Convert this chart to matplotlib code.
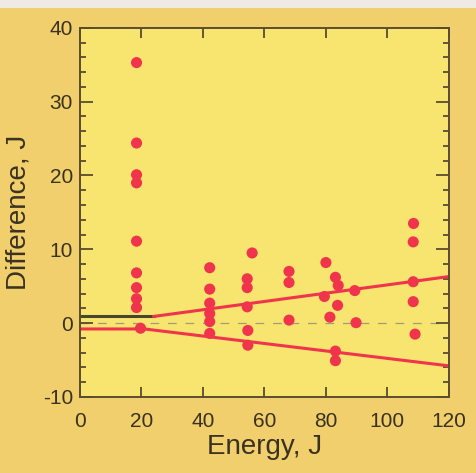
import matplotlib
matplotlib.use("Agg")
import matplotlib.pyplot as plt
from matplotlib.ticker import MultipleLocator
from matplotlib.patches import Rectangle

# measured points (energy J, difference J)
energy = [18.4, 18.4, 18.4, 18.4, 18.4, 18.4, 18.4, 18.4, 18.4, 19.7,
          42.2, 42.2, 42.2, 42.2, 42.2, 42.2,
          54.4, 54.4, 54.4, 54.6, 54.6, 56.0,
          68.0, 68.0, 68.0,
          80.0, 79.5, 81.3, 83.1, 84.0, 83.8, 83.1, 83.1,
          89.4, 89.8,
          108.5, 108.4, 108.4, 108.4, 109.0]
diff = [35.3, 24.4, 20.1, 19.0, 11.1, 6.8, 4.8, 3.3, 2.1, -0.7,
        7.5, 4.6, 2.7, 1.3, 0.2, -1.4,
        6.0, 4.8, 2.2, -1.0, -3.0, 9.5,
        7.0, 5.5, 0.4,
        8.2, 3.6, 0.8, 6.2, 5.1, 2.4, -3.8, -5.1,
        4.4, 0.05,
        13.5, 11.0, 5.6, 2.9, -1.5]

# limit lines
black_x = [0, 24]
black_y = [0.9, 0.9]
upper_x = [24, 120]
upper_y = [0.9, 6.3]
lower_x = [0, 21, 120]
lower_y = [-0.8, -0.8, -5.8]

plt.rcParams["axes.unicode_minus"] = False
plt.rcParams["font.family"] = ["Liberation Sans", "DejaVu Sans"]

fig = plt.figure(figsize=(4.76, 4.73), dpi=100)
fig.patch.set_facecolor("#f1cf6c")
fig.patches.append(Rectangle((0, 0.983), 1, 0.017, transform=fig.transFigure,
                             facecolor="#efebe4", edgecolor="none"))
ax = fig.add_axes([0.168, 0.161, 0.775, 0.780])
ax.set_facecolor("#f8e56f")

dark = "#3a3220"

ax.axhline(0, color="#a39a78", lw=0.9, dashes=(7, 7), zorder=1)
ax.plot(black_x, black_y, color="#4a4530", lw=2.2, zorder=2)
ax.plot(upper_x, upper_y, color="#f0344c", lw=2.2, zorder=2)
ax.plot(lower_x, lower_y, color="#f0344c", lw=2.2, zorder=2)
ax.scatter(energy, diff, s=64, color="#f0344c", edgecolors="none", zorder=3)

ax.set_xlim(0, 120)
ax.set_ylim(-10, 40)
ax.set_xticks([0, 20, 40, 60, 80, 100, 120])
ax.yaxis.set_major_locator(MultipleLocator(10))
ax.yaxis.set_minor_locator(MultipleLocator(2))
ax.tick_params(axis="both", which="both", direction="in", colors="#5a4c30",
               labelcolor=dark, labelsize=15, width=1.3)
ax.tick_params(axis="x", which="major", length=7, top=True, pad=11)
ax.tick_params(axis="y", which="major", length=9.5, right=True, pad=5)
ax.tick_params(axis="y", which="minor", length=4.5, right=True)
for s in ax.spines.values():
    s.set_color("#5a4c30")
    s.set_linewidth(1.4)

ax.set_xlabel("Energy, J", fontsize=20, color=dark, labelpad=2)
ax.set_ylabel("Difference, J", fontsize=20, color=dark, labelpad=8)

fig.savefig("out.png", dpi=100, facecolor=fig.get_facecolor())
